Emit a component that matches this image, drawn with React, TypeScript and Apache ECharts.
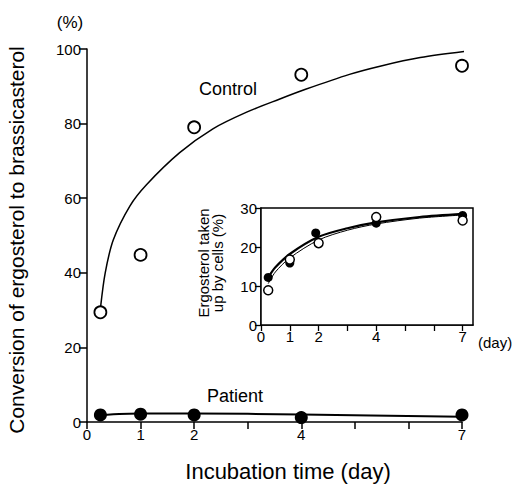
import React, { useEffect, useRef } from "react";
import * as echarts from "echarts";

// Main chart data
const controlPoints: [number, number][] = [[0.25, 29.4], [1, 44.8], [2, 79], [4, 93.1], [7, 95.5]];
const controlCurve: [number, number][] = [
  [0.255, 31], [0.34, 40], [0.49, 48.8], [0.8, 57.9], [1.11, 63.6], [1.73, 72.2],
  [2.35, 78.6], [2.97, 83], [3.6, 86.6], [4.08, 89.2], [4.9, 93.2], [5.47, 95.4],
  [6.22, 97.7], [7.2, 99.6],
];
const patientPoints: [number, number][] = [[0.25, 1.9], [1, 2.1], [2, 1.9], [4, 1.2], [7, 1.9]];
const patientCurve: [number, number][] = [[0.25, 1.9], [1, 2.3], [2, 2.3], [4, 2.0], [7, 1.4]];
const mainXLabels = [0, 1, 2, 4, 7];

// Inset data
const insetFilled: [number, number][] = [[0.25, 12.2], [1, 15.9], [1.9, 23.6], [4, 26.1], [7, 28.1]];
const insetOpen: [number, number][] = [[0.25, 8.9], [1, 16.8], [2, 21.0], [4, 27.7], [7, 26.8]];
const insetFilledCurve: [number, number][] = [[0.25, 12.2], [0.5, 14.8], [1, 18.2], [2, 22.6], [3, 24.8], [4, 26.3], [5.5, 27.7], [7, 28.5]];
const insetOpenCurve: [number, number][] = [[0.25, 10.6], [0.5, 13.6], [1, 17.2], [2, 21.8], [3, 24.3], [4, 25.9], [5.5, 27.4], [7, 28.2]];
const insetXLabels = [0, 1, 2, 4, 7];

const FONT = "Liberation Sans, Arial, Helvetica, sans-serif";

export default function App() {
  const ref = useRef<HTMLDivElement>(null);
  useEffect(() => {
    if (!ref.current) return;
    const chart = echarts.init(ref.current, undefined, { renderer: "svg" });
    const axisLine = { show: true, lineStyle: { color: "#000", width: 1.5 } };
    const option: any = {
      animation: false,
      backgroundColor: "#fff",
      textStyle: { fontFamily: FONT, color: "#000" },
      grid: [
        { left: 87, top: 49, right: 52, bottom: 62, show: false },
        { left: 261, top: 208, width: 212, height: 117, show: true, borderColor: "#000", borderWidth: 1.5, backgroundColor: "#fff", z: 3 },
      ],
      xAxis: [
        {
          gridIndex: 0, type: "value", min: 0, max: 7, interval: 1,
          axisLine, splitLine: { show: false },
          axisTick: { show: true, inside: false, length: 7, lineStyle: { color: "#000", width: 1.5 } },
          axisLabel: {
            margin: 5, fontSize: 15, color: "#000", fontFamily: FONT,
            formatter: (v: number) => (mainXLabels.includes(v) ? String(v) : ""),
          },
        },
        {
          gridIndex: 1, type: "value", min: 0, max: 7.36, interval: 1,
          axisLine, splitLine: { show: false },
          axisTick: { show: true, inside: false, length: 6, lineStyle: { color: "#000", width: 1.3 } },
          axisLabel: {
            margin: 4, fontSize: 15, color: "#000", fontFamily: FONT, showMaxLabel: false,
            formatter: (v: number) => (insetXLabels.includes(v) ? String(v) : ""),
          },
        },
      ],
      yAxis: [
        {
          gridIndex: 0, type: "value", min: 0, max: 100, interval: 20,
          axisLine, splitLine: { show: false },
          axisTick: { show: true, inside: false, length: 8, lineStyle: { color: "#000", width: 1.5 } },
          axisLabel: { margin: 6, fontSize: 15, color: "#000", fontFamily: FONT },
        },
        {
          gridIndex: 1, type: "value", min: 0, max: 30, interval: 10,
          axisLine, splitLine: { show: false },
          axisTick: { show: true, inside: false, length: 6, lineStyle: { color: "#000", width: 1.3 } },
          axisLabel: { margin: 4, fontSize: 15, color: "#000", fontFamily: FONT },
        },
      ],
      series: [
        {
          type: "line", xAxisIndex: 0, yAxisIndex: 0, data: controlCurve, smooth: 0.3,
          showSymbol: false, clip: false,
          lineStyle: { color: "#000", width: 1.5 }, z: 2,
        },
        {
          type: "scatter", xAxisIndex: 0, yAxisIndex: 0, data: controlPoints, symbol: "circle",
          symbolSize: 12, itemStyle: { color: "#fff", borderColor: "#000", borderWidth: 1.8, opacity: 1 }, z: 3,
        },
        {
          type: "line", xAxisIndex: 0, yAxisIndex: 0, data: patientCurve, smooth: 0.3,
          showSymbol: false, clip: false, lineStyle: { color: "#000", width: 2 }, z: 2,
        },
        {
          type: "scatter", xAxisIndex: 0, yAxisIndex: 0, data: patientPoints, symbol: "circle",
          symbolSize: 13, itemStyle: { color: "#000", opacity: 1 }, z: 3,
        },
        {
          type: "line", xAxisIndex: 1, yAxisIndex: 1, data: insetOpenCurve, smooth: 0.3,
          showSymbol: false, lineStyle: { color: "#000", width: 1 }, z: 4,
        },
        {
          type: "line", xAxisIndex: 1, yAxisIndex: 1, data: insetFilledCurve, smooth: 0.3,
          showSymbol: false, lineStyle: { color: "#000", width: 2.2 }, z: 4,
        },
        {
          type: "scatter", xAxisIndex: 1, yAxisIndex: 1, data: insetFilled, symbol: "circle",
          symbolSize: 9, itemStyle: { color: "#000", opacity: 1 }, z: 5,
        },
        {
          type: "scatter", xAxisIndex: 1, yAxisIndex: 1, data: insetOpen, symbol: "circle",
          symbolSize: 9, itemStyle: { color: "#fff", borderColor: "#000", borderWidth: 1.5, opacity: 1 }, z: 6,
        },
      ],
      graphic: [
        { type: "text", x: 70, y: 22, style: { text: "(%)", fontSize: 17, fontFamily: FONT, fill: "#000", align: "center", verticalAlign: "middle" } },
        { type: "text", x: 16, y: 240, rotation: Math.PI / 2, style: { text: "Conversion of ergosterol to brassicasterol", fontSize: 21, fontFamily: FONT, fill: "#000", align: "center", verticalAlign: "middle" } },
        { type: "text", x: 288, y: 471, style: { text: "Incubation time (day)", fontSize: 22, fontFamily: FONT, fill: "#000", align: "center", verticalAlign: "middle" } },
        { type: "text", x: 228, y: 89, style: { text: "Control", fontSize: 18, fontFamily: FONT, fill: "#000", align: "center", verticalAlign: "middle" } },
        { type: "text", x: 235, y: 396, style: { text: "Patient", fontSize: 18, fontFamily: FONT, fill: "#000", align: "center", verticalAlign: "middle" } },
        { type: "text", x: 478, y: 342, style: { text: "(day)", fontSize: 15, fontFamily: FONT, fill: "#000", align: "left", verticalAlign: "middle" } },
        { type: "text", x: 210, y: 263, rotation: Math.PI / 2, style: { text: "Ergosterol taken\nup by cells (%)", fontSize: 15, lineHeight: 14, fontFamily: FONT, fill: "#000", align: "center", verticalAlign: "middle" } },
      ],
    };
    chart.setOption(option);
    return () => chart.dispose();
  }, []);
  return <div ref={ref} style={{ position: "fixed", left: 0, top: 0, width: 514, height: 484 }} />;
}
